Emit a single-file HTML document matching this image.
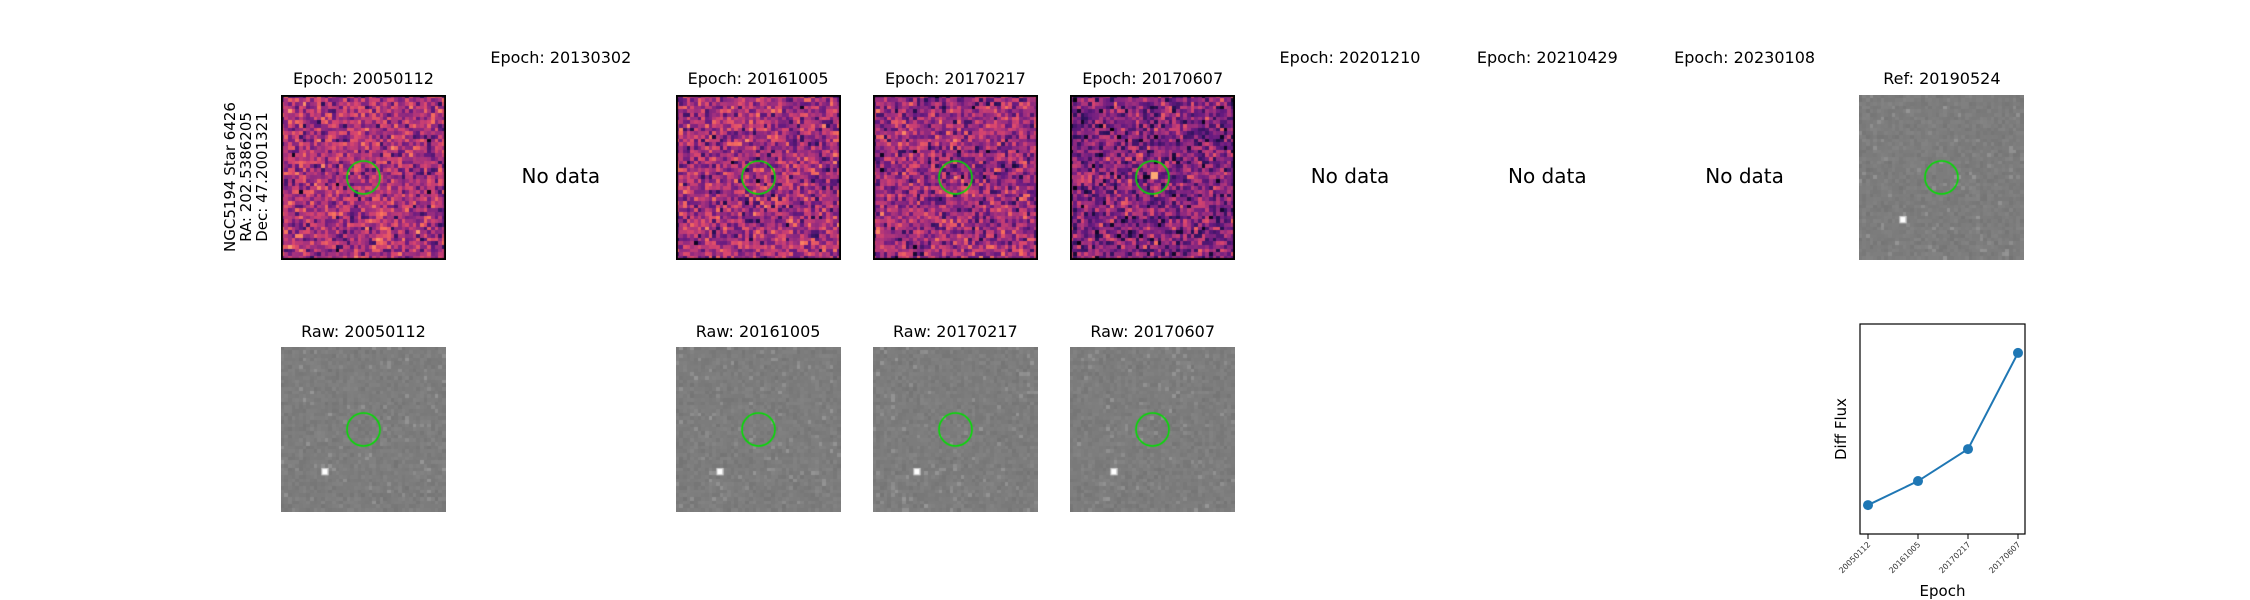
<!DOCTYPE html>
<html><head><meta charset="utf-8"><style>
body{margin:0;background:#fff;width:2250px;height:600px;position:relative;overflow:hidden;font-family:"DejaVu Sans","Liberation Sans",sans-serif;}
.t{position:absolute;font-size:16px;color:#000;white-space:nowrap;transform:translateX(-50%);}
.nd{position:absolute;font-size:20px;transform:translate(-50%,-50%);white-space:nowrap;}
canvas{position:absolute;}
</style></head><body>
<div id="root"></div>
<svg id="lc" width="2250" height="600" style="position:absolute;left:0;top:0"></svg>
<script>
const categories=["20050112","20161005","20170217","20170607"];
const fluxValues=[0.0,0.158,0.368,1.0];
const yDomain=[-0.19,1.19];

const root=document.getElementById('root');
function rng(seed){let s=seed;return ()=>{s=(s*1664525+1013904223)>>>0;return s/4294967296;};}
function magma(t){const st=[[0,0,4],[40,17,89],[101,26,128],[159,47,127],[216,69,110],[246,111,92],[254,173,118],[252,253,191]];t=Math.max(0,Math.min(1,t))*7;const i=Math.min(6,Math.floor(t)),f=t-i;const a=st[i],b=st[i+1];return `rgb(${a.map((v,k)=>Math.round(v+(b[k]-v)*f)).join(',')})`;}
const x0=281,step=197.3,W=165;
const titles=["Epoch: 20050112","Epoch: 20130302","Epoch: 20161005","Epoch: 20170217","Epoch: 20170607","Epoch: 20201210","Epoch: 20210429","Epoch: 20230108","Ref: 20190524"];
const hasData=[1,0,1,1,1,0,0,0,1];
const bases=[0.46,0,0.44,0.42,0.36];
function addText(cls,txt,x,y,name){const d=document.createElement('div');d.className=cls;d.textContent=txt;d.style.left=x+'px';d.style.top=y+'px';


root.appendChild(d);}
function drawImg(x,y,type,seed,name,border,k){
 const c=document.createElement('canvas');c.width=W;c.height=W;c.style.left=x+'px';c.style.top=y+'px';
 
 
 const g=c.getContext('2d');const r=rng(seed);const n=45,cs=W/n;
 for(let i=0;i<n;i++)for(let j=0;j<n;j++){
  if(type==='magma'){let v=bases[k]+(r()+r()+r()-1.5)*0.26;if(r()<0.004)v=0.05;g.fillStyle=magma(v);}
  else{let v=125+(r()+r()-1)*9;if(r()<0.04)v+=18;g.fillStyle=`rgb(${v|0},${v|0},${v|0})`;}
  g.fillRect(Math.floor(i*cs),Math.floor(j*cs),Math.ceil(cs)+1,Math.ceil(cs)+1);}
 if(type!=='magma'){g.fillStyle='#ccc';g.fillRect(11*cs,33*cs,cs*2,cs*2);g.fillStyle='#fff';g.fillRect(11.3*cs,33.3*cs,cs*1.3,cs*1.4);}
 else if(k===4){g.fillStyle=magma(0.85);g.fillRect(22*cs,21*cs,cs*2,cs*2);}
 else if(k===3){g.fillStyle=magma(0.75);g.fillRect(22*cs,22*cs,cs,cs);}
 g.strokeStyle='#00e000';g.lineWidth=1.6;g.beginPath();g.arc(W/2,W/2,16.5,0,Math.PI*2);g.stroke();
 if(border){g.strokeStyle='#000';g.lineWidth=2;g.strokeRect(1,1,W-2,W-2);}
 root.appendChild(c);}
titles.forEach((t,k)=>{const x=x0+k*step;
 if(hasData[k]){addText('t',t,x+W/2,69,'title-'+k);drawImg(x,95,k===8?'gray':'magma',k+2,k===8?'ref-image':'diff-image-'+k,k!==8,k);
  if(k<8){addText('t','Raw: '+t.slice(7),x+W/2,322,'raw-title-'+k);drawImg(x,347,'gray',k+20,'raw-image-'+k,false,k);}}
 else{addText('t',t,x+W/2,48,'title-'+k);addText('nd','No data',x+W/2,176,'no-data-'+k);}
});
const lab=document.createElement('div');lab.innerHTML='NGC5194 Star 6426<br>RA: 202.5386205<br>Dec: 47.2001321';
lab.style.cssText='position:absolute;left:246px;top:177px;font-size:15px;line-height:16px;text-align:center;white-space:nowrap;transform:translate(-50%,-50%) rotate(-90deg);';


root.appendChild(lab);

const svg=document.getElementById('lc');const NS='http://www.w3.org/2000/svg';
const L=1860,R=2025,T=324,B=534;
const xs=i=>1868+i*(2018-1868)/(categories.length-1);
const ys=v=>B-(v-yDomain[0])/(yDomain[1]-yDomain[0])*(B-T);
function el(tag,attrs,name){const e=document.createElementNS(NS,tag);for(const k in attrs)e.setAttribute(k,attrs[k]);


svg.appendChild(e);return e;}
el('rect',{x:L,y:T,width:R-L,height:B-T,fill:'none',stroke:'#000','stroke-width':1.2},'plot-frame');
el('polyline',{points:fluxValues.map((v,i)=>xs(i)+','+ys(v)).join(' '),fill:'none',stroke:'#1f77b4','stroke-width':2},'flux-line');
fluxValues.forEach((v,i)=>{el('circle',{cx:xs(i),cy:ys(v),r:5,fill:'#1f77b4'},'flux-point-'+i);
 el('line',{x1:xs(i),x2:xs(i),y1:B,y2:B+5,stroke:'#000'},'x-tick-'+i);
 const t=el('text',{x:xs(i)+3,y:B+11,'font-size':8,'text-anchor':'end',transform:`rotate(-45 ${xs(i)+3} ${B+11})`,'font-family':'DejaVu Sans, sans-serif',fill:'#333'},'x-tick-label-'+i);t.textContent=categories[i];});
const xt=el('text',{x:(L+R)/2,y:596,'font-size':15,'text-anchor':'middle','font-family':'DejaVu Sans, sans-serif'},'x-axis-title');xt.textContent='Epoch';
const yt=el('text',{x:1846,y:(T+B)/2,'font-size':15,'text-anchor':'middle','font-family':'DejaVu Sans, sans-serif',transform:`rotate(-90 1846 ${(T+B)/2})`},'y-axis-title');yt.textContent='Diff Flux';
</script>
</body></html>
